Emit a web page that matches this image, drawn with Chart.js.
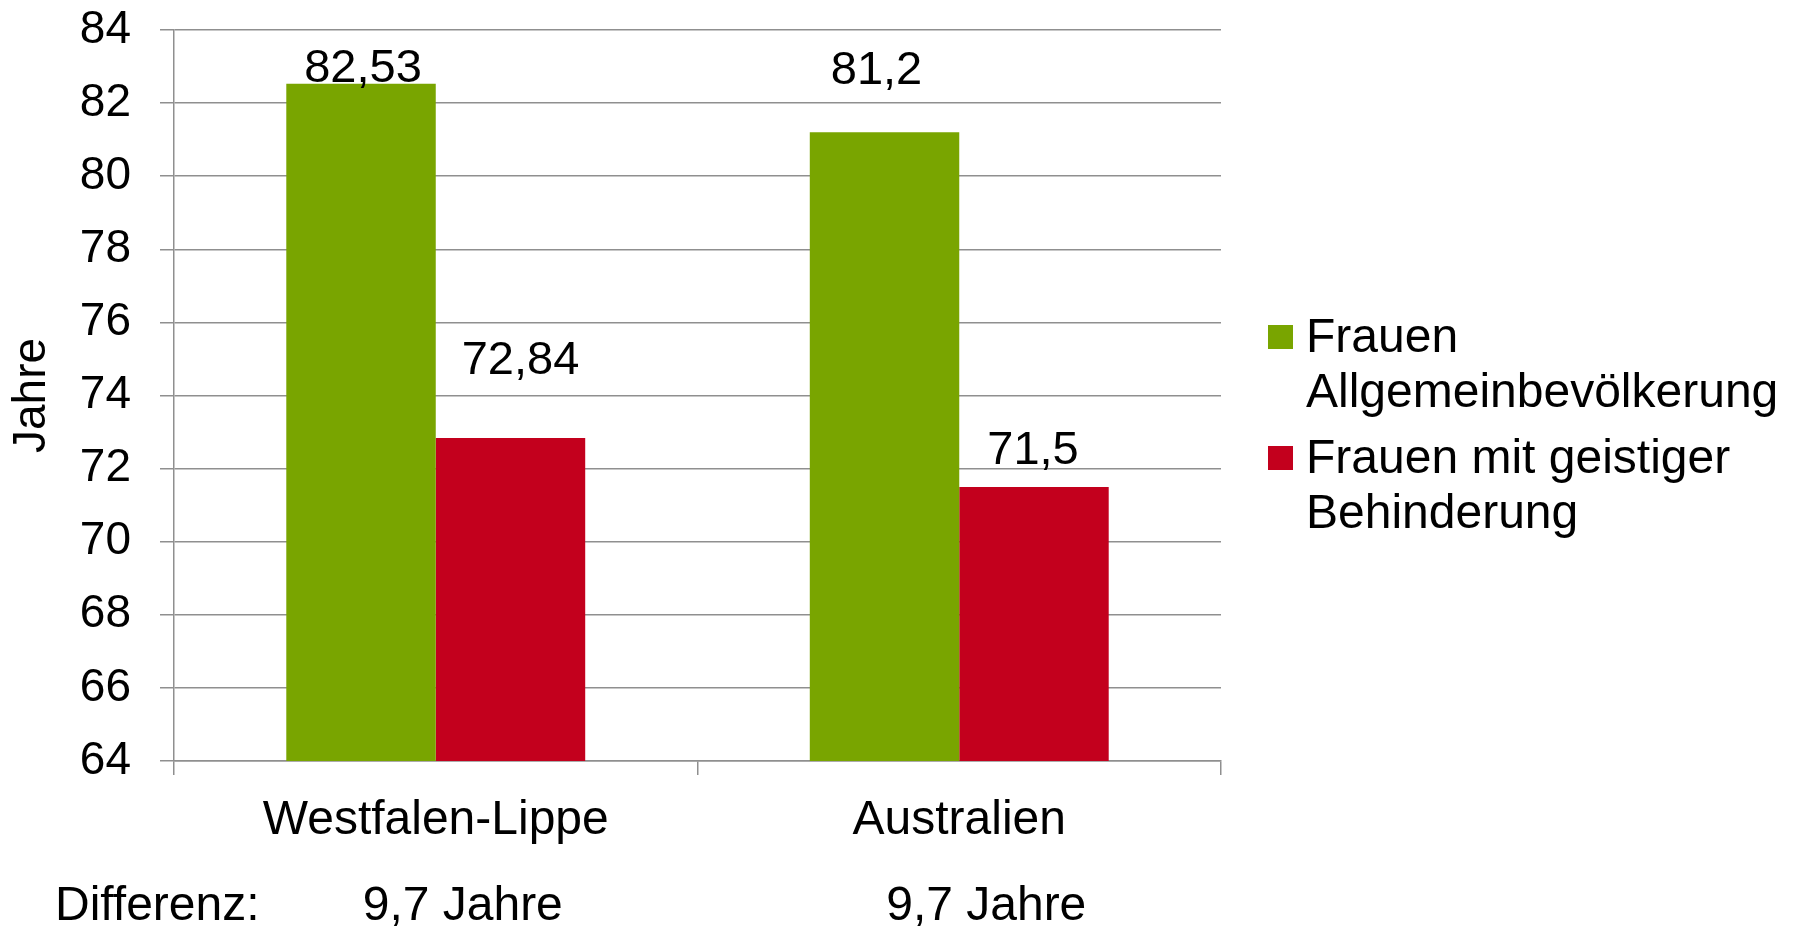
<!DOCTYPE html>
<html>
<head>
<meta charset="utf-8">
<script src="https://cdn.jsdelivr.net/npm/chart.js@4.4.1/dist/chart.umd.min.js"></script>
<style>
    html, body { margin: 0; padding: 0; background: #ffffff; }
</style>
</head>
<body>
<canvas id="lifeChart" width="1793" height="927"></canvas>
<script>
// Daten
const categories = ['Westfalen-Lippe', 'Australien'];
const frauenAllgemein = [82.53, 81.2];
const frauenBehinderung = [72.84, 71.5];
const differenzWerte = ['9,7 Jahre', '9,7 Jahre'];
const seriesNames = [['Frauen', 'Allgemeinbevölkerung'], ['Frauen mit geistiger', 'Behinderung']];
const yMin = 64;
const yMax = 84;
const yStep = 2;

const FONT = '"Liberation Sans", Arial, sans-serif';
const GREEN = '#79a500';
const RED = '#c3001d';
const GRID = '#8f8f8f';

// label offsets (px) relative to bar top / centre, per dataset and category
const labelShift = [
    [{ dx: 2, dy: 2 }, { dx: -8, dy: 48 }],
    [{ dx: 10, dy: 64 }, { dx: -1, dy: 23 }]
];

function fmt(v) {
    return String(v).replace('.', ',');
}

// Wertbeschriftungen auf den Balken
const valueLabels = {
    id: 'valueLabels',
    afterDatasetsDraw(chart) {
        const ctx = chart.ctx;
        ctx.save();
        ctx.font = '47px ' + FONT;
        ctx.fillStyle = '#000';
        ctx.textAlign = 'center';
        ctx.textBaseline = 'alphabetic';
        chart.data.datasets.forEach((ds, di) => {
            const meta = chart.getDatasetMeta(di);
            meta.data.forEach((bar, i) => {
                const s = labelShift[di][i];
                ctx.fillText(fmt(ds.data[i]), bar.x + s.dx, bar.y - s.dy);
            });
        });
        ctx.restore();
    }
};

// Legende rechts (mehrzeilig)
const sideLegend = {
    id: 'sideLegend',
    afterDraw(chart) {
        const ctx = chart.ctx;
        const colors = [GREEN, RED];
        const firstBaseline = [352, 473];
        ctx.save();
        ctx.font = '48px ' + FONT;
        ctx.textAlign = 'left';
        ctx.textBaseline = 'alphabetic';
        seriesNames.forEach((lines, i) => {
            const base = firstBaseline[i];
            ctx.fillStyle = colors[i];
            ctx.fillRect(1268, base - 27, 25, 24);
            ctx.fillStyle = '#000';
            lines.forEach((line, j) => {
                ctx.fillText(line, 1306, base + j * 55);
            });
        });
        ctx.restore();
    }
};

// Differenz-Zeile unter der Achse
const diffRow = {
    id: 'diffRow',
    afterDraw(chart) {
        const ctx = chart.ctx;
        const xScale = chart.scales.x;
        ctx.save();
        ctx.font = '48px ' + FONT;
        ctx.fillStyle = '#000';
        ctx.textBaseline = 'alphabetic';
        ctx.textAlign = 'left';
        ctx.fillText('Differenz:', 55, 920);
        ctx.textAlign = 'center';
        differenzWerte.forEach((txt, i) => {
            ctx.fillText(txt, xScale.getPixelForValue(i) + 27, 920);
        });
        ctx.restore();
    }
};

const ctx = document.getElementById('lifeChart').getContext('2d');
new Chart(ctx, {
    type: 'bar',
    data: {
        labels: categories,
        datasets: [{
            label: seriesNames[0].join(' '),
            data: frauenAllgemein,
            backgroundColor: GREEN,
            borderWidth: 0
        }, {
            label: seriesNames[1].join(' '),
            data: frauenBehinderung,
            backgroundColor: RED,
            borderWidth: 0
        }]
    },
    options: {
        responsive: false,
        animation: false,
        devicePixelRatio: 1,
        categoryPercentage: 0.571,
        barPercentage: 1,
        layout: {
            padding: { top: 30, right: 572, bottom: 82, left: 0 }
        },
        scales: {
            x: {
                afterFit(scale) { scale.height = 84; },
                grid: {
                    display: true,
                    drawOnChartArea: false,
                    drawTicks: true,
                    tickLength: 14,
                    color: GRID,
                    lineWidth: 1.5,
                    offset: true
                },
                border: { display: true, color: GRID, width: 1.5 },
                ticks: {
                    color: '#000',
                    font: { family: FONT, size: 48 },
                    padding: 17,
                    maxRotation: 0
                }
            },
            y: {
                min: yMin,
                max: yMax,
                afterFit(scale) {
                    scale.width = 174;
                    scale.paddingTop = 0;
                    scale.paddingBottom = 0;
                },
                grid: {
                    color: GRID,
                    lineWidth: 1.5,
                    tickLength: 14
                },
                border: { display: true, color: GRID, width: 1.5 },
                ticks: {
                    stepSize: yStep,
                    color: '#000',
                    font: { family: FONT, size: 46 },
                    padding: 29
                },
                title: {
                    display: true,
                    text: 'Jahre',
                    color: '#000',
                    font: { family: FONT, size: 46, lineHeight: 1 },
                    padding: { top: 9, bottom: 0 }
                }
            }
        },
        plugins: {
            legend: { display: false },
            tooltip: { enabled: false }
        }
    },
    plugins: [valueLabels, sideLegend, diffRow]
});
</script>
</body>
</html>
